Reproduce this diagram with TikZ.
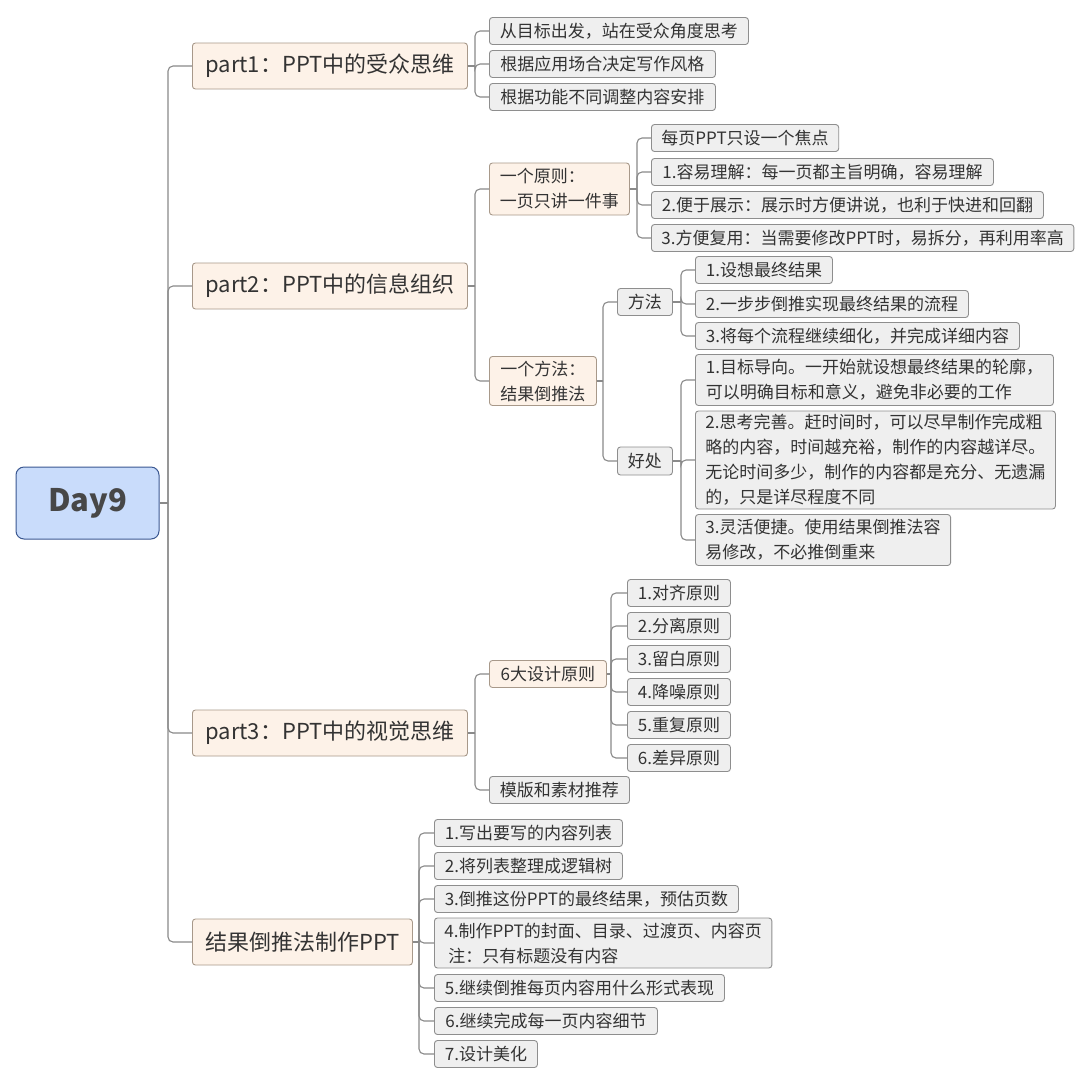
\documentclass[tikz,border=0pt]{standalone}
\usepackage{fontspec}
\setmainfont{Noto Sans CJK SC}
\definecolor{txt}{HTML}{333333}
\definecolor{leaffill}{HTML}{EFEFEF}
\definecolor{leafdraw}{HTML}{8E8E8E}
\definecolor{partfill}{HTML}{FDF2E8}
\definecolor{partdraw}{HTML}{A8998A}
\definecolor{rootfill}{HTML}{C9DCFB}
\definecolor{rootdraw}{HTML}{3A5791}
\definecolor{linec}{HTML}{8A8A8A}
\tikzset{
  box/.style={rounded corners=3pt, inner xsep=10pt, inner ysep=2pt, anchor=west, text=txt, align=left, line width=0.9pt},
  leaf/.style={box, fill=leaffill, draw=leafdraw, font=\fontsize{17}{25}\selectfont, minimum height=27pt},
  sub/.style={box, fill=partfill, draw=partdraw, font=\fontsize{17}{25}\selectfont, minimum height=27pt},
  part/.style={box, fill=partfill, draw=partdraw, font=\fontsize{22}{26}\selectfont, minimum height=46pt, inner xsep=12pt},
  root/.style={rounded corners=8pt, fill=rootfill, draw=rootdraw, line width=1pt, text=txt!90!white, font=\fontsize{31}{36}\selectfont\bfseries, minimum width=143pt, minimum height=72pt},
  conn/.style={draw=linec, line width=1.1pt, rounded corners=5pt},
}
\newcommand\kid[2]{\draw[conn] (#1) |- (#2.west);}
\begin{document}
\begin{tikzpicture}[x=1pt,y=-1pt]
\useasboundingbox[fill=white] (0,0) rectangle (1090,1085);

% root
\node[root] (root) at (87.5,503) {Day9};

% parts
\node[part, minimum width=275pt] (p1) at (192,66) {part1：PPT中的受众思维};
\node[part, minimum width=275pt] (p2) at (192,286) {part2：PPT中的信息组织};
\node[part, minimum width=275pt] (p3) at (192,733) {part3：PPT中的视觉思维};
\node[part, minimum width=220pt] (p4) at (192,942) {结果倒推法制作PPT};

\coordinate (jr) at (168,503);
\draw[conn] (root.east) -- (jr);
\kid{jr}{p1} \kid{jr}{p2} \kid{jr}{p3} \kid{jr}{p4}

% part1 children
\node[leaf, minimum width=259pt] (l11) at (489,31) {从目标出发，站在受众角度思考};
\node[leaf, minimum width=226pt] (l12) at (489,64) {根据应用场合决定写作风格};
\node[leaf, minimum width=226pt] (l13) at (489,97) {根据功能不同调整内容安排};
\coordinate (j1) at (475,66);
\draw[conn] (p1.east) -- (j1);
\kid{j1}{l11} \kid{j1}{l12} \kid{j1}{l13}

% part2 children
\node[sub, minimum width=140pt, minimum height=52pt] (a1) at (489,189) {一个原则：\\一页只讲一件事};
\node[sub, minimum width=107pt, minimum height=49pt] (a2) at (489,381) {一个方法：\\结果倒推法};
\coordinate (j2) at (475,286);
\draw[conn] (p2.east) -- (j2);
\kid{j2}{a1} \kid{j2}{a2}

\node[leaf, minimum width=187pt] (a11) at (651,138) {每页PPT只设一个焦点};
\node[leaf, minimum width=342pt] (a12) at (651,172) {1.容易理解：每一页都主旨明确，容易理解};
\node[leaf, minimum width=392pt] (a13) at (651,205) {2.便于展示：展示时方便讲说，也利于快进和回翻};
\node[leaf, minimum width=422pt] (a14) at (651,238) {3.方便复用：当需要修改PPT时，易拆分，再利用率高};
\coordinate (ja1) at (637,189);
\draw[conn] (a1.east) -- (ja1);
\kid{ja1}{a11} \kid{ja1}{a12} \kid{ja1}{a13} \kid{ja1}{a14}

\node[leaf, minimum width=55pt] (b1) at (617,302) {方法};
\node[leaf, minimum width=55pt, minimum height=28pt] (b2) at (617,461) {好处};
\coordinate (ja2) at (603,381);
\draw[conn] (a2.east) -- (ja2);
\kid{ja2}{b1} \kid{ja2}{b2}

\node[leaf, minimum width=137pt] (b11) at (695,270) {1.设想最终结果};
\node[leaf, minimum width=273pt] (b12) at (695,304) {2.一步步倒推实现最终结果的流程};
\node[leaf, minimum width=324pt] (b13) at (695,336) {3.将每个流程继续细化，并完成详细内容};
\coordinate (jb1) at (681,302);
\draw[conn] (b1.east) -- (jb1);
\kid{jb1}{b11} \kid{jb1}{b12} \kid{jb1}{b13}

\node[leaf, minimum width=358pt, minimum height=51pt] (b21) at (695,380) {1.目标导向。一开始就设想最终结果的轮廓，\\可以明确目标和意义，避免非必要的工作};
\node[leaf, minimum width=360pt, minimum height=98pt] (b22) at (695,460) {2.思考完善。赶时间时，可以尽早制作完成粗\\略的内容，时间越充裕，制作的内容越详尽。\\无论时间多少，制作的内容都是充分、无遗漏\\的，只是详尽程度不同};
\node[leaf, minimum width=255pt, minimum height=51pt] (b23) at (695,540) {3.灵活便捷。使用结果倒推法容\\易修改，不必推倒重来};
\coordinate (jb2) at (681,461);
\draw[conn] (b2.east) -- (jb2);
\kid{jb2}{b21} \kid{jb2}{b22} \kid{jb2}{b23}

% part3 children
\node[sub, minimum width=117pt] (c1) at (489,674) {6大设计原则};
\node[leaf, minimum width=140pt] (c2) at (489,790) {模版和素材推荐};
\coordinate (j3) at (475,733);
\draw[conn] (p3.east) -- (j3);
\kid{j3}{c1} \kid{j3}{c2}

\node[leaf, minimum width=103pt] (c11) at (627,593) {1.对齐原则};
\node[leaf, minimum width=103pt] (c12) at (627,626) {2.分离原则};
\node[leaf, minimum width=103pt] (c13) at (627,659) {3.留白原则};
\node[leaf, minimum width=103pt] (c14) at (627,692) {4.降噪原则};
\node[leaf, minimum width=103pt] (c15) at (627,725) {5.重复原则};
\node[leaf, minimum width=103pt] (c16) at (627,758) {6.差异原则};
\coordinate (jc1) at (611,674);
\draw[conn] (c1.east) -- (jc1);
\kid{jc1}{c11} \kid{jc1}{c12} \kid{jc1}{c13} \kid{jc1}{c14} \kid{jc1}{c15} \kid{jc1}{c16}

% part4 children
\node[leaf, minimum width=188pt] (d1) at (434,833) {1.写出要写的内容列表};
\node[leaf, minimum width=188pt] (d2) at (434,866) {2.将列表整理成逻辑树};
\node[leaf, minimum width=304pt] (d3) at (434,899) {3.倒推这份PPT的最终结果，预估页数};
\node[leaf, minimum width=337pt, minimum height=50pt] (d4) at (434,943) {4.制作PPT的封面、目录、过渡页、内容页\\\ 注：只有标题没有内容};
\node[leaf, minimum width=290pt] (d5) at (434,988) {5.继续倒推每页内容用什么形式表现};
\node[leaf, minimum width=223pt] (d6) at (434,1021) {6.继续完成每一页内容细节};
\node[leaf, minimum width=103pt] (d7) at (434,1054) {7.设计美化};
\coordinate (j4) at (419,942);
\draw[conn] (p4.east) -- (j4);
\kid{j4}{d1} \kid{j4}{d2} \kid{j4}{d3} \kid{j4}{d4} \kid{j4}{d5} \kid{j4}{d6} \kid{j4}{d7}
\end{tikzpicture}
\end{document}
